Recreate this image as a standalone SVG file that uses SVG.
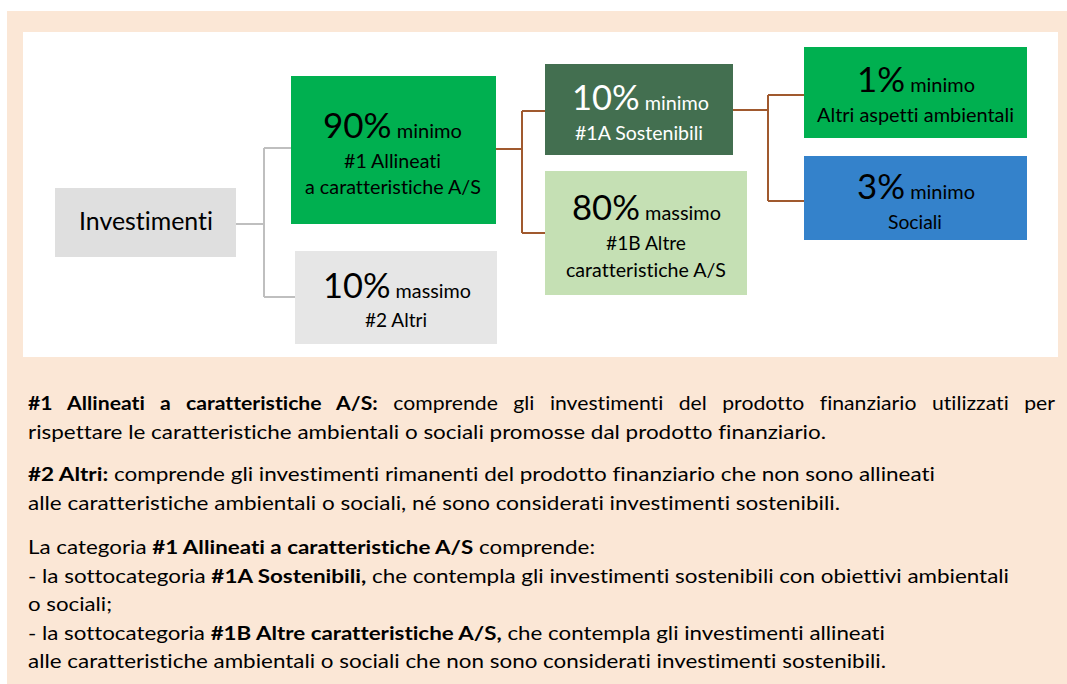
<svg xmlns="http://www.w3.org/2000/svg" width="1067" height="684" viewBox="0 0 1067 684">
<style>
text { font-family: Lato, "Open Sans", "Liberation Sans", sans-serif; fill: #000; font-variant-ligatures: none; font-feature-settings: "liga" 0, "clig" 0; }
.big { font-size: 34px; }
.sm { font-size: 19.5px; }
.lbl { font-size: 19.5px; }
.wt { fill: #fff; }
.body { font-size: 19px; }
.b { font-weight: bold; }
.gray-line { fill: none; stroke: #bfbfbf; stroke-width: 2; }
.brown-line { fill: none; stroke: #a0592e; stroke-width: 2; }
</style>
<rect x="0" y="0" width="1067" height="684" fill="#ffffff"/>
<rect x="7" y="11" width="1060" height="673" fill="#fbe7d6"/>
<rect x="23" y="32" width="1035" height="325" fill="#ffffff"/>

<g id="connectors">
  <path class="gray-line" d="M236,224 H264 M264,148 V297 M264,148 H291 M264,297 H295"/>
  <path class="brown-line" d="M496,149 H522 M522,111 V233 M522,111 H545 M522,233 H545"/>
  <path class="brown-line" d="M733,110 H768 M768,95 V201 M768,95 H804 M768,201 H804"/>
</g>

<g id="investimenti">
  <rect x="55" y="188" width="181" height="69" fill="#dfdfdf"/>
  <text x="79" y="230" font-size="25" textLength="134" lengthAdjust="spacingAndGlyphs">Investimenti</text>
</g>

<g id="allineati">
  <rect x="291" y="76" width="205" height="148" fill="#00b050"/>
  <text x="323" y="138" textLength="139" lengthAdjust="spacingAndGlyphs"><tspan class="big">90%</tspan><tspan class="sm"> minimo</tspan></text>
  <text class="lbl" x="344" y="168" textLength="97" lengthAdjust="spacingAndGlyphs">#1 Allineati</text>
  <text class="lbl" x="305" y="194" textLength="176" lengthAdjust="spacingAndGlyphs">a caratteristiche A/S</text>
</g>

<g id="altri">
  <rect x="295" y="251" width="202" height="93" fill="#e6e6e6"/>
  <text x="323" y="298" textLength="148" lengthAdjust="spacingAndGlyphs"><tspan class="big">10%</tspan><tspan class="sm"> massimo</tspan></text>
  <text class="lbl" x="365" y="327" textLength="62" lengthAdjust="spacingAndGlyphs">#2 Altri</text>
</g>

<g id="sostenibili">
  <rect x="545" y="64" width="188" height="91" fill="#436f50"/>
  <text class="wt" x="572" y="110" textLength="137" lengthAdjust="spacingAndGlyphs"><tspan class="big wt">10%</tspan><tspan class="sm wt"> minimo</tspan></text>
  <text class="lbl wt" x="575" y="140" textLength="128" lengthAdjust="spacingAndGlyphs">#1A Sostenibili</text>
</g>

<g id="altre-caratteristiche">
  <rect x="545" y="171" width="202" height="124" fill="#c5e0b4"/>
  <text x="572" y="220" textLength="149" lengthAdjust="spacingAndGlyphs"><tspan class="big">80%</tspan><tspan class="sm"> massimo</tspan></text>
  <text class="lbl" x="606" y="250" textLength="80" lengthAdjust="spacingAndGlyphs">#1B Altre</text>
  <text class="lbl" x="566" y="277" textLength="160" lengthAdjust="spacingAndGlyphs">caratteristiche A/S</text>
</g>

<g id="ambientali">
  <rect x="804" y="47" width="223" height="91" fill="#00b050"/>
  <text x="857" y="92" textLength="118" lengthAdjust="spacingAndGlyphs"><tspan class="big">1%</tspan><tspan class="sm"> minimo</tspan></text>
  <text class="lbl" x="817" y="122" textLength="197" lengthAdjust="spacingAndGlyphs">Altri aspetti ambientali</text>
</g>

<g id="sociali">
  <rect x="804" y="156" width="223" height="84" fill="#3482cb"/>
  <text x="857" y="199" textLength="118" lengthAdjust="spacingAndGlyphs"><tspan class="big">3%</tspan><tspan class="sm"> minimo</tspan></text>
  <text class="lbl" x="888" y="229" textLength="54" lengthAdjust="spacingAndGlyphs">Sociali</text>
</g>

<g id="notes">
  <text class="body" x="28" y="410" word-spacing="9" textLength="1027" lengthAdjust="spacingAndGlyphs"><tspan class="b">#1 Allineati a caratteristiche A/S:</tspan> comprende gli investimenti del prodotto finanziario utilizzati per</text>
  <text class="body" x="28" y="439" textLength="798" lengthAdjust="spacingAndGlyphs">rispettare le caratteristiche ambientali o sociali promosse dal prodotto finanziario.</text>
  <text class="body" x="28" y="481" textLength="907" lengthAdjust="spacingAndGlyphs"><tspan class="b">#2 Altri:</tspan> comprende gli investimenti rimanenti del prodotto finanziario che non sono allineati</text>
  <text class="body" x="28" y="510" textLength="812" lengthAdjust="spacingAndGlyphs">alle caratteristiche ambientali o sociali, né sono considerati investimenti sostenibili.</text>
  <text class="body" x="28" y="554" textLength="567" lengthAdjust="spacingAndGlyphs">La categoria <tspan class="b">#1 Allineati a caratteristiche A/S</tspan> comprende:</text>
  <text class="body" x="28" y="583" textLength="981" lengthAdjust="spacingAndGlyphs">- la sottocategoria <tspan class="b">#1A Sostenibili,</tspan> che contempla gli investimenti sostenibili con obiettivi ambientali</text>
  <text class="body" x="28" y="611" textLength="84" lengthAdjust="spacingAndGlyphs">o sociali;</text>
  <text class="body" x="28" y="640" textLength="857" lengthAdjust="spacingAndGlyphs">- la sottocategoria <tspan class="b">#1B Altre caratteristiche A/S,</tspan> che contempla gli investimenti allineati</text>
  <text class="body" x="28" y="668" textLength="858" lengthAdjust="spacingAndGlyphs">alle caratteristiche ambientali o sociali che non sono considerati investimenti sostenibili.</text>
</g>
</svg>
